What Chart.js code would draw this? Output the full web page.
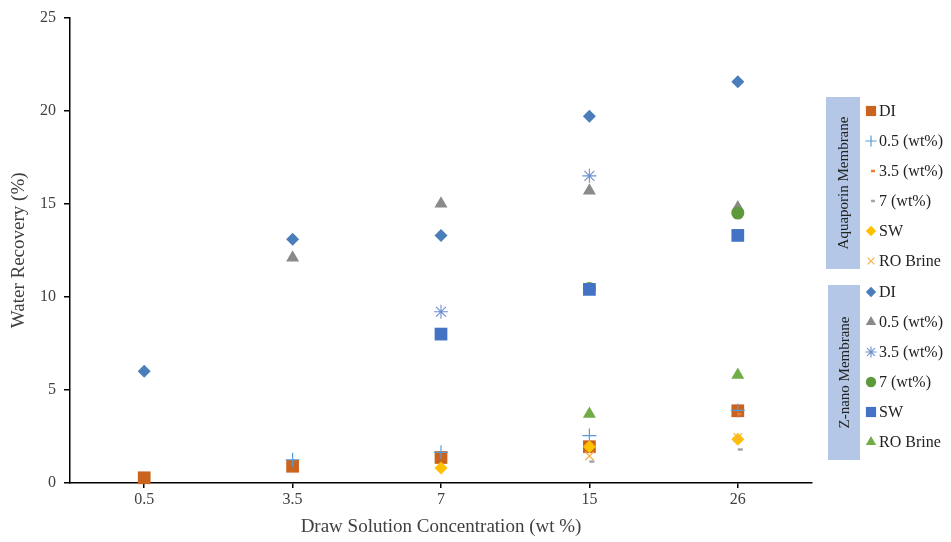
<!DOCTYPE html>
<html>
<head>
<meta charset="utf-8">
<script src="https://cdn.jsdelivr.net/npm/chart.js@4.4.1/dist/chart.umd.min.js"></script>
<style>
  html, body { margin: 0; padding: 0; background: #fff; }
  #wrap { width: 951px; height: 542px; }
</style>
</head>
<body>
<div id="wrap"><canvas id="chart"></canvas></div>
<script>
// x categories: draw solution concentration (wt %)
const concentrations = ['0.5', '3.5', '7', '15', '26'];

// Aquaporin membrane, water recovery (%)
const aqDI      = [0.28, 0.9, 1.37, 1.95, 3.88];
const aq05      = [null, 1.25, 1.65, 2.55, 3.9];
const aq35      = [null, null, null, 2.1, 3.7];
const aq7       = [null, null, null, 1.15, 1.8];
const aqSW      = [null, null, 0.8, 1.95, 2.35];
const aqROBrine = [null, null, null, 1.45, 2.45];

// Z-nano membrane, water recovery (%)
const znDI      = [6.0, 13.1, 13.3, 19.7, 21.55];
const zn05      = [null, 12.1, 15.0, 15.7, 14.8];
const zn35      = [null, null, 9.2, 16.5, null];
const zn7       = [null, null, null, 10.45, 14.5];
const znSW      = [null, null, 8.0, 10.4, 13.3];
const znROBrine = [null, null, null, 3.7, 5.8];

const seriesNames = ['DI', '0.5 (wt%)', '3.5 (wt%)', '7 (wt%)', 'SW', 'RO Brine'];
const groupNames = ['Aquaporin Membrane', 'Z-nano Membrane'];

const serif = '"Liberation Serif", "Times New Roman", serif';

const styles = [
  { style: 'rect',     color: '#C9631E', r: 9,   bw: 0 },
  { style: 'cross',    color: '#5B9BD5', r: 7,   bw: 1.2 },
  { style: 'dash',     color: '#ED7D31', r: 3.5, bw: 2.5 },
  { style: 'dash',     color: '#A5A5A5', r: 5,   bw: 2.5 },
  { style: 'rectRot',  color: '#FFC000', r: 6.5, bw: 0 },
  { style: 'crossRot', color: '#F2B24A', r: 6,   bw: 1.2 },
  { style: 'rectRot',  color: '#4A7EBB', r: 6.5, bw: 0 },
  { style: 'triangle', color: '#8A8A8A', r: 7.5, bw: 0 },
  { style: 'star',     color: '#6E8FD2', r: 7,   bw: 1.1 },
  { style: 'circle',   color: '#5E9A3C', r: 6.5, bw: 0 },
  { style: 'rect',     color: '#4472C4', r: 9,   bw: 0 },
  { style: 'triangle', color: '#70AD47', r: 7.5, bw: 0 }
];

const values = [aqDI, aq05, aq35, aq7, aqSW, aqROBrine, znDI, zn05, zn35, zn7, znSW, znROBrine];

const datasets = values.map((v, i) => {
  const s = styles[i];
  const filled = s.bw === 0;
  return {
    label: groupNames[i < 6 ? 0 : 1] + ' ' + seriesNames[i % 6],
    data: v,
    showLine: false,
    pointStyle: s.style,
    pointRadius: s.r,
    pointHoverRadius: s.r,
    pointBorderWidth: filled ? 0 : s.bw,
    pointBackgroundColor: s.color,
    pointBorderColor: s.color,
    borderColor: s.color,
    backgroundColor: s.color,
    order: values.length - i,
    clip: false
  };
});

// grouped legend on the right, with rotated membrane names
const groupLegend = {
  id: 'groupLegend',
  afterDraw(chart) {
    const ctx = chart.ctx;
    const groups = [
      { box: [826, 97, 34, 172], first: 111 },
      { box: [828, 285, 32, 175], first: 292 }
    ];
    groups.forEach((g, gi) => {
      ctx.save();
      ctx.fillStyle = '#B4C7E7';
      ctx.fillRect(g.box[0], g.box[1], g.box[2], g.box[3]);
      ctx.translate(g.box[0] + g.box[2] / 2, g.box[1] + g.box[3] / 2);
      ctx.rotate(-Math.PI / 2);
      ctx.fillStyle = '#222';
      ctx.font = '15px ' + serif;
      ctx.textAlign = 'center';
      ctx.textBaseline = 'middle';
      ctx.fillText(groupNames[gi], 0, 1);
      ctx.restore();

      for (let k = 0; k < 6; k++) {
        const i = gi * 6 + k;
        const s = styles[i];
        const y = g.first + k * 30;
        const isDash = s.style === 'dash';
        ctx.save();
        ctx.fillStyle = s.color;
        ctx.strokeStyle = s.color;
        ctx.lineWidth = s.bw;
        Chart.helpers.drawPoint(ctx, {
          pointStyle: s.style,
          radius: isDash ? 4 : s.r * 0.8,
          borderWidth: s.bw,
          rotation: 0
        }, 871, y);
        ctx.fillStyle = '#222';
        ctx.font = '16px ' + serif;
        ctx.textAlign = 'left';
        ctx.textBaseline = 'middle';
        ctx.fillText(seriesNames[k], 879, y + 1);
        ctx.restore();
      }
    });
  }
};

new Chart(document.getElementById('chart'), {
  type: 'line',
  data: { labels: concentrations, datasets: datasets },
  plugins: [groupLegend],
  options: {
    responsive: true,
    maintainAspectRatio: false,
    animation: false,
    layout: { padding: { top: 17, right: 139, bottom: 0, left: 4 } },
    plugins: {
      legend: { display: false },
      tooltip: { enabled: false }
    },
    scales: {
      x: {
        type: 'category',
        offset: true,
        afterFit: (scale) => { scale.height = 59; },
        grid: {
          offset: false,
          drawOnChartArea: false,
          drawTicks: true,
          tickLength: 5,
          color: '#000',
          lineWidth: 1.5
        },
        border: { color: '#000', width: 1.5 },
        ticks: {
          color: '#404040',
          font: { family: serif, size: 16 },
          padding: 2
        },
        title: {
          display: true,
          text: 'Draw Solution Concentration (wt %)',
          color: '#404040',
          font: { family: serif, size: 19 },
          padding: { top: 8 }
        }
      },
      y: {
        min: 0,
        max: 25,
        afterFit: (scale) => { scale.width = 66; },
        grid: {
          drawOnChartArea: false,
          drawTicks: true,
          tickLength: 6,
          color: '#000',
          lineWidth: 1.5
        },
        border: { color: '#000', width: 1.5 },
        ticks: {
          stepSize: 5,
          color: '#404040',
          font: { family: serif, size: 16 },
          padding: 8
        },
        title: {
          display: true,
          text: 'Water Recovery (%)',
          color: '#404040',
          font: { family: serif, size: 19 },
          padding: { bottom: 2 }
        }
      }
    }
  }
});
</script>
</body>
</html>
